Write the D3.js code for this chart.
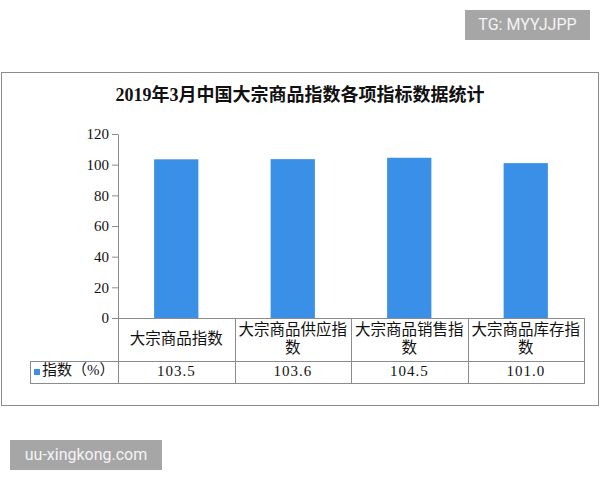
<!DOCTYPE html>
<html>
<head>
<meta charset="utf-8">
<script src="https://cdn.jsdelivr.net/npm/d3@7"></script>
<style>
  body { margin: 0; background: #fff; }
  svg { display: block; }
</style>
</head>
<body>
<svg id="chart" width="600" height="480"></svg>
<script>
// data
const categories = ["大宗商品指数", "大宗商品供应指数", "大宗商品销售指数", "大宗商品库存指数"]
const values = [103.5, 103.6, 104.5, 101.0]
const valueLabels = ["103.5", "103.6", "104.5", "101.0"]
const yTicks = [0, 20, 40, 60, 80, 100, 120]
const seriesName = "指数（%）"
const title = "2019年3月中国大宗商品指数各项指标数据统计"

const barColor = "#3a90e6"
const lineColor = "#8c8c8c"
const cjk = "'Liberation Serif', 'Noto Sans CJK SC', sans-serif"

const svg = d3.select("#chart")

// outer frame
svg.append("rect")
  .attr("x", 1.5).attr("y", 72.5)
  .attr("width", 597).attr("height", 333)
  .attr("fill", "none").attr("stroke", lineColor)

svg.append("text")
  .attr("x", 300).attr("y", 97)
  .attr("text-anchor", "middle").attr("dominant-baseline", "middle")
  .style("font-family", cjk).style("font-size", "18px").style("font-weight", "bold")
  .attr("fill", "#111")
  .text(title)

const x = d3.scaleBand()
  .domain(categories)
  .range([118, 584])
  .paddingInner(0.62)
  .paddingOuter(0.31)

const y = d3.scaleLinear().domain([0, 120]).range([318, 134])

// y axis
const yAxis = svg.append("g")
  .attr("transform", "translate(118,0)")
  .call(d3.axisLeft(y).tickValues(yTicks).tickSize(6).tickPadding(3).tickSizeOuter(0))
yAxis.select(".domain").attr("stroke", lineColor)
yAxis.selectAll(".tick line").attr("stroke", lineColor)
yAxis.selectAll(".tick text")
  .style("font-family", "'Liberation Serif', serif").style("font-size", "15px")
  .attr("fill", "#111")

// bars
svg.append("g").selectAll("rect")
  .data(categories)
  .join("rect")
  .attr("x", (d) => x(d))
  .attr("width", x.bandwidth())
  .attr("y", (d, i) => y(values[i]))
  .attr("height", (d, i) => y(0) - y(values[i]))
  .attr("fill", barColor)

// data table
const colEdges = categories.map((d) => x(d) - x.step() * x.paddingInner() / 2 - 0)
const step = x.step()
const left = 118, right = 584, legendLeft = 30
const rowTop = 318, rowMid = 361, rowBottom = 383
const table = svg.append("g").attr("stroke", lineColor).attr("stroke-width", 1)
table.append("line").attr("x1", left).attr("x2", right).attr("y1", rowTop + 0.5).attr("y2", rowTop + 0.5)
table.append("line").attr("x1", legendLeft).attr("x2", right).attr("y1", rowMid + 0.5).attr("y2", rowMid + 0.5)
table.append("line").attr("x1", legendLeft).attr("x2", right).attr("y1", rowBottom + 0.5).attr("y2", rowBottom + 0.5)
table.append("line").attr("x1", legendLeft + 0.5).attr("x2", legendLeft + 0.5).attr("y1", rowMid).attr("y2", rowBottom + 1)
d3.range(categories.length + 1).forEach((i) => {
  const xx = Math.round(left + i * step) + 0.5
  table.append("line").attr("x1", xx).attr("x2", xx).attr("y1", rowTop).attr("y2", rowBottom + 1)
})

// category labels, wrapped to the column width
const catG = svg.append("g")
categories.forEach((c, i) => {
  const cx = x(c) + x.bandwidth() / 2
  const t = catG.append("text")
    .attr("x", cx).attr("text-anchor", "middle")
    .style("font-family", cjk).style("font-size", "15.5px").attr("fill", "#111")
  // split characters into lines that fit
  const lines = []
  let cur = ""
  for (const ch of c) {
    t.text(cur + ch)
    if (t.node().getComputedTextLength() > step - 6 && cur) {
      lines.push(cur)
      cur = ch
    } else {
      cur += ch
    }
  }
  lines.push(cur)
  t.text(null)
  const lh = 18
  const y0 = 340 - (lines.length - 1) * lh / 2
  lines.forEach((ln, k) => {
    t.append("tspan")
      .attr("x", cx).attr("y", y0 + k * lh)
      .attr("dominant-baseline", "middle")
      .text(ln)
  })
})

// value row
svg.append("g").selectAll("text")
  .data(categories)
  .join("text")
  .attr("x", (d) => x(d) + x.bandwidth() / 2)
  .attr("y", 373)
  .attr("text-anchor", "middle").attr("dominant-baseline", "middle")
  .style("font-family", "'Liberation Serif', serif").style("font-size", "15px")
  .style("letter-spacing", "1px")
  .attr("fill", "#111")
  .text((d, i) => valueLabels[i])

// legend cell
svg.append("rect")
  .attr("x", 34).attr("y", 369).attr("width", 6).attr("height", 6)
  .attr("fill", barColor)
svg.append("text")
  .attr("x", 42).attr("y", 372)
  .attr("dominant-baseline", "middle")
  .style("font-family", cjk).style("font-size", "15px").attr("fill", "#111")
  .text(seriesName)

// corner labels
const tag = (bx, by, bw, bh, label) => {
  svg.append("rect").attr("x", bx).attr("y", by).attr("width", bw).attr("height", bh).attr("fill", "#a6a6a6")
  svg.append("text")
    .attr("x", bx + bw / 2).attr("y", by + bh / 2 + 1)
    .attr("text-anchor", "middle").attr("dominant-baseline", "middle")
    .style("font-family", "Roboto, 'Liberation Sans', sans-serif").style("font-size", "16px")
    .attr("fill", "#f4f4f4")
    .text(label)
}
tag(465, 10, 125, 30, "TG: MYYJJPP")
tag(10, 440, 152, 30, "uu-xingkong.com")
</script>
</body>
</html>
